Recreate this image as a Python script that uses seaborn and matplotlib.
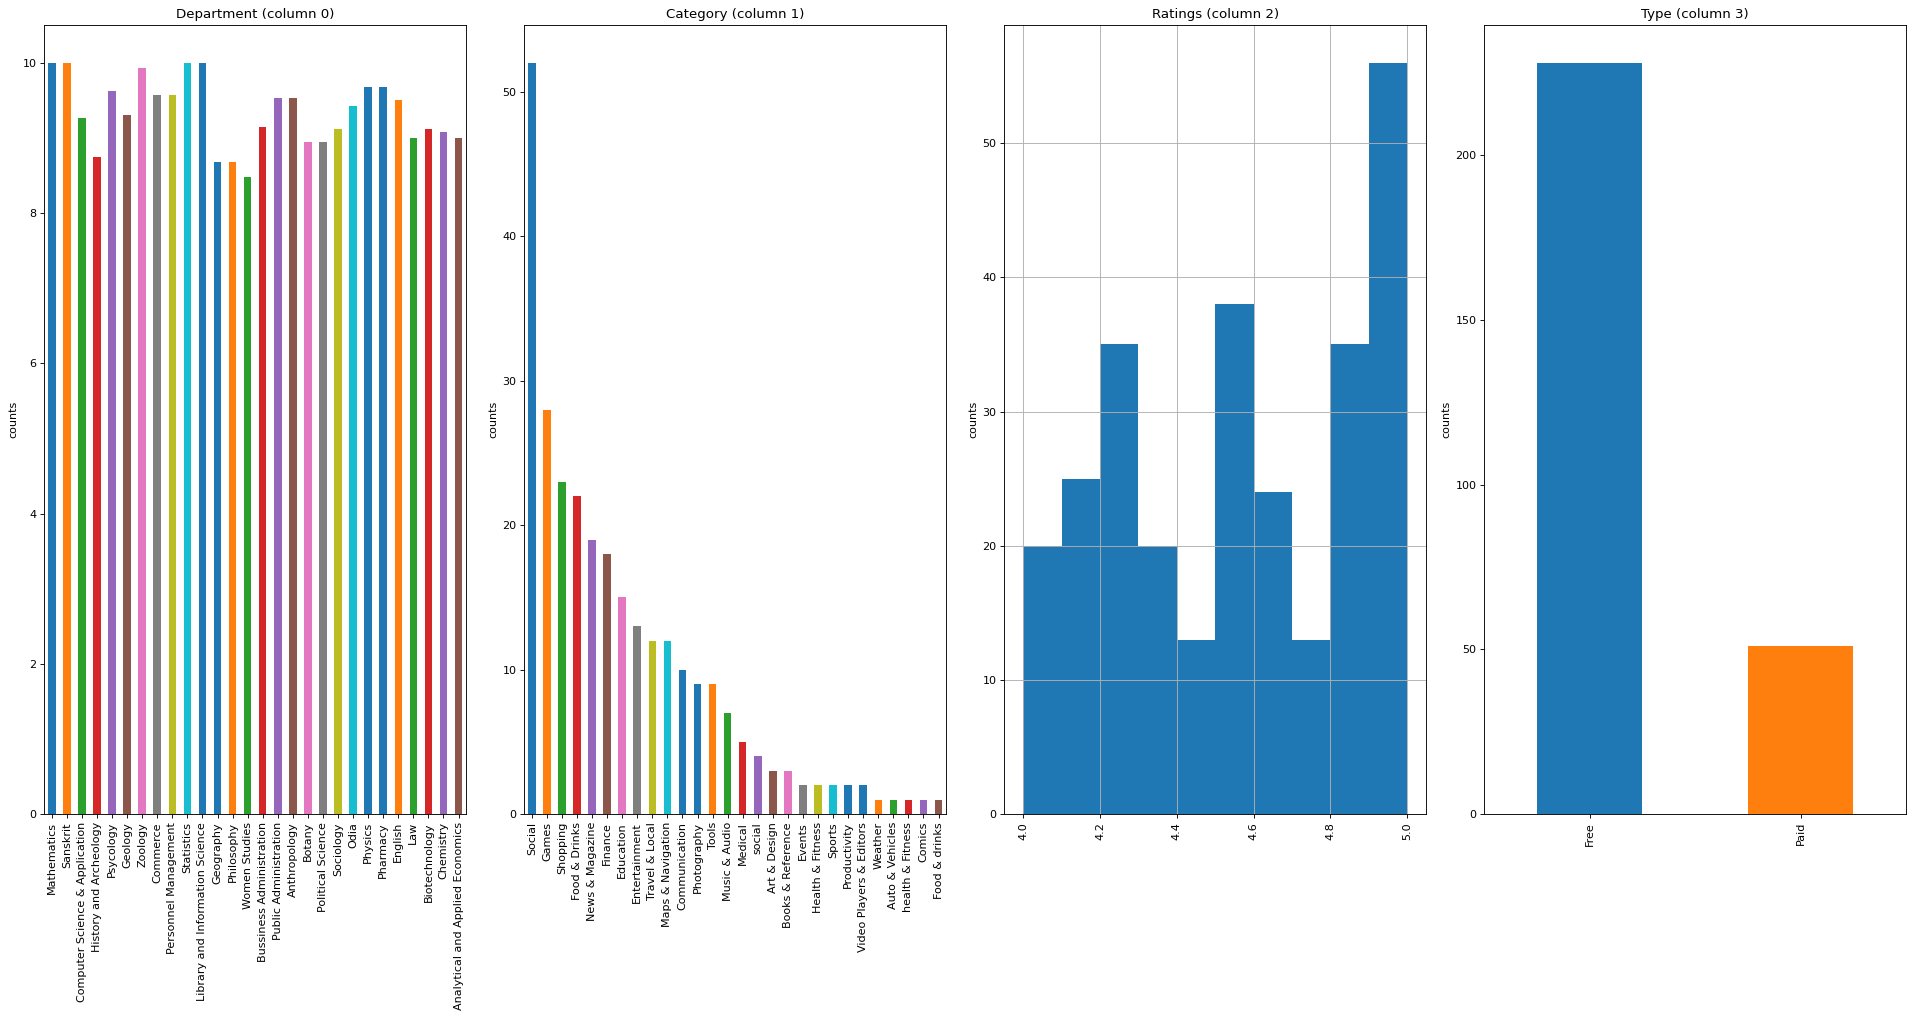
import matplotlib
matplotlib.use('Agg')
import matplotlib.pyplot as plt
import seaborn as sns

# Column 0: department (mean values per department)
departments = ['Mathematics', 'Sanskrit', 'Computer Science & Application', 'History and Archeology',
               'Psycology', 'Geology', 'Zoology', 'Commerce', 'Personnel Management', 'Statistics',
               'Library and Information Science', 'Geography', 'Philosophy', 'Women Studies',
               'Bussiness Administration', 'Public Administration', 'Anthropology', 'Botany',
               'Political Science', 'Sociology', 'Odia', 'Physics', 'Pharmacy', 'English', 'Law',
               'Biotechnology', 'Chemistry', 'Analytical and Applied Economics']
department_values = [10.0, 10.0, 9.26, 8.75, 9.62, 9.30, 9.93, 9.57, 9.57, 10.0,
                     10.0, 8.68, 8.68, 8.48, 9.14, 9.53, 9.53, 8.94,
                     8.94, 9.12, 9.42, 9.67, 9.67, 9.50, 9.00,
                     9.12, 9.08, 9.00]

# Column 1: category counts
categories = ['Social', 'Games', 'Shopping', 'Food & Drinks', 'News & Magazine', 'Finance',
              'Education', 'Entertainment', 'Travel & Local', 'Maps & Navigation', 'Communication',
              'Photography', 'Tools', 'Music & Audio', 'Medical', 'social', 'Art & Design',
              'Books & Reference', 'Events', 'Health & Fitness', 'Sports', 'Productivity',
              'Video Players & Editors', 'Weather', 'Auto & Vehicles', 'health & Fitness',
              'Comics', 'Food & drinks']
category_counts = [52, 28, 23, 22, 19, 18, 15, 13, 12, 12, 10, 9, 9, 7, 5, 4, 3, 3,
                   2, 2, 2, 2, 2, 1, 1, 1, 1, 1]

# Column 2: ratings histogram (bin centres and counts)
rating_bin_centres = [4.05, 4.15, 4.25, 4.35, 4.45, 4.55, 4.65, 4.75, 4.85, 4.95]
rating_counts = [20, 25, 35, 20, 13, 38, 24, 13, 35, 56]

# Column 3: type counts
types = ['Free', 'Paid']
type_counts = [228, 51]

# colour cycle as in the original (tab10 plus an extra blue)
tab10 = sns.color_palette('tab10')
cycle = list(tab10) + [tab10[0]]


def colours_for(n):
    return [cycle[i % len(cycle)] for i in range(n)]


fig, axes = plt.subplots(1, 4, figsize=(1917 / 80, 1017 / 80), dpi=80)
plt.subplots_adjust(left=0.0231, right=0.9943, top=0.9754, bottom=0.1993, wspace=0.138)

ax = axes[0]
sns.barplot(x=departments, y=department_values, hue=departments, palette=colours_for(len(departments)),
            legend=False, width=0.5, saturation=1, ax=ax)
ax.set_title('Department (column 0)')

ax = axes[1]
sns.barplot(x=categories, y=category_counts, hue=categories, palette=colours_for(len(categories)),
            legend=False, width=0.5, saturation=1, ax=ax)
ax.set_title('Category (column 1)')

ax = axes[2]
sns.histplot(x=rating_bin_centres, weights=rating_counts, bins=10, binrange=(4.0, 5.0),
             color=tab10[0], alpha=1, edgecolor='none', linewidth=0, ax=ax)
ax.grid(True)
ax.set_title('Ratings (column 2)')

ax = axes[3]
sns.barplot(x=types, y=type_counts, hue=types, palette=colours_for(len(types)),
            legend=False, width=0.5, saturation=1, ax=ax)
ax.set_title('Type (column 3)')

for ax in axes:
    ax.set_ylabel('counts')
    ax.set_xlabel('')
    ax.tick_params(axis='x', labelrotation=90)

fig.savefig('out.png', dpi=80)
